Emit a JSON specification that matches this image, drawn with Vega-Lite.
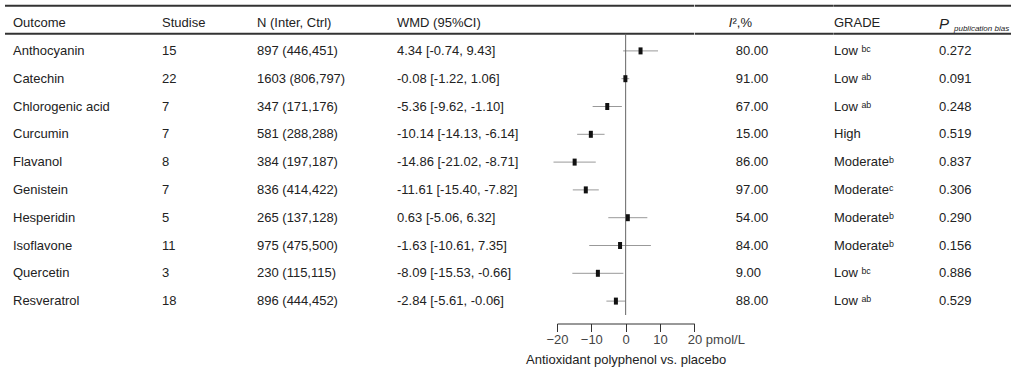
{
  "$schema": "https://vega.github.io/schema/vega-lite/v6.json",
  "background": "white",
  "padding": {"left": 4, "top": 4, "right": 0, "bottom": 0},
  "spacing": 0,
  "bounds": "flush",
  "config": {"view": {"stroke": null}, "font": "Liberation Sans", "text": {"font": "Liberation Sans", "fontSize": 13, "color": "#222", "align": "left", "baseline": "middle"},
    "axisX": {"grid": false, "domainColor": "#333", "domainWidth": 1, "tickColor": "#333", "tickSize": 8, "tickWidth": 1, "labelFont": "Liberation Sans", "labelFontSize": 13, "labelColor": "#444", "labelPadding": 2, "labelFlush": false, "labelOverlap": false, "labelBound": false, "titleFont": "Liberation Sans", "titleFontSize": 13, "titleFontWeight": "normal", "titleColor": "#222", "titlePadding": 7}},
  "data": {"values": [
    {"outcome": "Anthocyanin", "studies": 15, "n": "897 (446,451)", "wmd_ci": "4.34 [-0.74, 9.43]", "wmd": 4.34, "lo": -0.74, "hi": 9.43, "i2": 80, "grade": "Low ᵇᶜ", "p": 0.272},
    {"outcome": "Catechin", "studies": 22, "n": "1603 (806,797)", "wmd_ci": "-0.08 [-1.22, 1.06]", "wmd": -0.08, "lo": -1.22, "hi": 1.06, "i2": 91, "grade": "Low ᵃᵇ", "p": 0.091},
    {"outcome": "Chlorogenic acid", "studies": 7, "n": "347 (171,176)", "wmd_ci": "-5.36 [-9.62, -1.10]", "wmd": -5.36, "lo": -9.62, "hi": -1.10, "i2": 67, "grade": "Low ᵃᵇ", "p": 0.248},
    {"outcome": "Curcumin", "studies": 7, "n": "581 (288,288)", "wmd_ci": "-10.14 [-14.13, -6.14]", "wmd": -10.14, "lo": -14.13, "hi": -6.14, "i2": 15, "grade": "High", "p": 0.519},
    {"outcome": "Flavanol", "studies": 8, "n": "384 (197,187)", "wmd_ci": "-14.86 [-21.02, -8.71]", "wmd": -14.86, "lo": -21.02, "hi": -8.71, "i2": 86, "grade": "Moderateᵇ", "p": 0.837},
    {"outcome": "Genistein", "studies": 7, "n": "836 (414,422)", "wmd_ci": "-11.61 [-15.40, -7.82]", "wmd": -11.61, "lo": -15.40, "hi": -7.82, "i2": 97, "grade": "Moderateᶜ", "p": 0.306},
    {"outcome": "Hesperidin", "studies": 5, "n": "265 (137,128)", "wmd_ci": "0.63 [-5.06, 6.32]", "wmd": 0.63, "lo": -5.06, "hi": 6.32, "i2": 54, "grade": "Moderateᵇ", "p": 0.290},
    {"outcome": "Isoflavone", "studies": 11, "n": "975 (475,500)", "wmd_ci": "-1.63 [-10.61, 7.35]", "wmd": -1.63, "lo": -10.61, "hi": 7.35, "i2": 84, "grade": "Moderateᵇ", "p": 0.156},
    {"outcome": "Quercetin", "studies": 3, "n": "230 (115,115)", "wmd_ci": "-8.09 [-15.53, -0.66]", "wmd": -8.09, "lo": -15.53, "hi": -0.66, "i2": 9, "grade": "Low ᵇᶜ", "p": 0.886},
    {"outcome": "Resveratrol", "studies": 18, "n": "896 (444,452)", "wmd_ci": "-2.84 [-5.61, -0.06]", "wmd": -2.84, "lo": -5.61, "hi": -0.06, "i2": 88, "grade": "Low ᵃᵇ", "p": 0.529}
  ]},
  "hconcat": [
    {
      "width": 157, "height": 278,
      "layer": [
        {"data": {"values": [{}]}, "mark": {"type": "rule", "color": "#333", "strokeWidth": 2, "yOffset": -45.1}, "encoding": {"y": {"datum": "Anthocyanin", "type": "nominal", "axis": null, "scale": {"type": "band", "paddingInner": 0, "paddingOuter": 0, "domain": ["Anthocyanin", "Catechin", "Chlorogenic acid", "Curcumin", "Flavanol", "Genistein", "Hesperidin", "Isoflavone", "Quercetin", "Resveratrol"]}}}},
        {"data": {"values": [{}]}, "mark": {"type": "rule", "color": "#333", "strokeWidth": 2, "yOffset": -17.1}, "encoding": {"y": {"datum": "Anthocyanin", "type": "nominal", "axis": null}}},
        {"data": {"values": [{}]}, "mark": {"type": "text", "text": "Outcome", "dx": 8, "yOffset": -27.8}, "encoding": {"x": {"datum": "Outcome", "type": "nominal", "bandPosition": 0, "axis": null, "scale": {"type": "band", "paddingInner": 0, "paddingOuter": 0}}, "y": {"datum": "Anthocyanin", "type": "nominal", "axis": null}}},
        {"mark": {"type": "text", "dx": 8}, "encoding": {"x": {"datum": "Outcome", "type": "nominal", "bandPosition": 0, "axis": null}, "y": {"field": "outcome", "type": "nominal", "axis": null}, "text": {"field": "outcome"}}}
      ]
    },
    {
      "width": 95, "height": 278,
      "layer": [
        {"data": {"values": [{}]}, "mark": {"type": "rule", "color": "#333", "strokeWidth": 2, "yOffset": -45.1}, "encoding": {"y": {"datum": "Anthocyanin", "type": "nominal", "axis": null, "scale": {"type": "band", "paddingInner": 0, "paddingOuter": 0, "domain": ["Anthocyanin", "Catechin", "Chlorogenic acid", "Curcumin", "Flavanol", "Genistein", "Hesperidin", "Isoflavone", "Quercetin", "Resveratrol"]}}}},
        {"data": {"values": [{}]}, "mark": {"type": "rule", "color": "#333", "strokeWidth": 2, "yOffset": -17.1}, "encoding": {"y": {"datum": "Anthocyanin", "type": "nominal", "axis": null}}},
        {"data": {"values": [{}]}, "mark": {"type": "text", "text": "Studise", "yOffset": -27.8}, "encoding": {"x": {"datum": "Studise", "type": "nominal", "bandPosition": 0, "axis": null, "scale": {"type": "band", "paddingInner": 0, "paddingOuter": 0}}, "y": {"datum": "Anthocyanin", "type": "nominal", "axis": null}}},
        {"mark": {"type": "text"}, "encoding": {"x": {"datum": "Studise", "type": "nominal", "bandPosition": 0, "axis": null}, "y": {"field": "outcome", "type": "nominal", "axis": null}, "text": {"field": "studies"}}}
      ]
    },
    {
      "width": 140, "height": 278,
      "layer": [
        {"data": {"values": [{}]}, "mark": {"type": "rule", "color": "#333", "strokeWidth": 2, "yOffset": -45.1}, "encoding": {"y": {"datum": "Anthocyanin", "type": "nominal", "axis": null, "scale": {"type": "band", "paddingInner": 0, "paddingOuter": 0, "domain": ["Anthocyanin", "Catechin", "Chlorogenic acid", "Curcumin", "Flavanol", "Genistein", "Hesperidin", "Isoflavone", "Quercetin", "Resveratrol"]}}}},
        {"data": {"values": [{}]}, "mark": {"type": "rule", "color": "#333", "strokeWidth": 2, "yOffset": -17.1}, "encoding": {"y": {"datum": "Anthocyanin", "type": "nominal", "axis": null}}},
        {"data": {"values": [{}]}, "mark": {"type": "text", "text": "N (Inter, Ctrl)", "yOffset": -27.8}, "encoding": {"x": {"datum": "N", "type": "nominal", "bandPosition": 0, "axis": null, "scale": {"type": "band", "paddingInner": 0, "paddingOuter": 0}}, "y": {"datum": "Anthocyanin", "type": "nominal", "axis": null}}},
        {"mark": {"type": "text"}, "encoding": {"x": {"datum": "N", "type": "nominal", "bandPosition": 0, "axis": null}, "y": {"field": "outcome", "type": "nominal", "axis": null}, "text": {"field": "n"}}}
      ]
    },
    {
      "width": 160, "height": 278,
      "layer": [
        {"data": {"values": [{}]}, "mark": {"type": "rule", "color": "#333", "strokeWidth": 2, "yOffset": -45.1}, "encoding": {"y": {"datum": "Anthocyanin", "type": "nominal", "axis": null, "scale": {"type": "band", "paddingInner": 0, "paddingOuter": 0, "domain": ["Anthocyanin", "Catechin", "Chlorogenic acid", "Curcumin", "Flavanol", "Genistein", "Hesperidin", "Isoflavone", "Quercetin", "Resveratrol"]}}}},
        {"data": {"values": [{}]}, "mark": {"type": "rule", "color": "#333", "strokeWidth": 2, "yOffset": -17.1}, "encoding": {"y": {"datum": "Anthocyanin", "type": "nominal", "axis": null}}},
        {"data": {"values": [{}]}, "mark": {"type": "text", "text": "WMD (95%CI)", "yOffset": -27.8}, "encoding": {"x": {"datum": "WMD", "type": "nominal", "bandPosition": 0, "axis": null, "scale": {"type": "band", "paddingInner": 0, "paddingOuter": 0}}, "y": {"datum": "Anthocyanin", "type": "nominal", "axis": null}}},
        {"mark": {"type": "text"}, "encoding": {"x": {"datum": "WMD", "type": "nominal", "bandPosition": 0, "axis": null}, "y": {"field": "outcome", "type": "nominal", "axis": null}, "text": {"field": "wmd_ci"}}}
      ]
    },
    {
      "width": 137.3, "height": 278,
      "layer": [
        {"mark": {"type": "rule", "color": "#999", "strokeWidth": 1}, "encoding": {"x": {"field": "lo", "type": "quantitative", "scale": {"domain": [-20, 20], "nice": false, "zero": false},
          "axis": {"orient": "bottom", "offset": 8.5, "values": [-20, -10, 0, 10, 20], "labelExpr": "datum.value == 20 ? '20 pmol/L' : datum.label", "labelAlign": {"condition": {"test": "datum.value == 20", "value": "left"}, "value": "center"}, "labelOffset": {"condition": {"test": "datum.value == 20", "value": -7}, "value": 0}, "title": "Antioxidant polyphenol vs. placebo"}},
          "x2": {"field": "hi"}, "y": {"field": "outcome", "type": "nominal", "axis": null, "scale": {"type": "band", "paddingInner": 0, "paddingOuter": 0, "domain": ["Anthocyanin", "Catechin", "Chlorogenic acid", "Curcumin", "Flavanol", "Genistein", "Hesperidin", "Isoflavone", "Quercetin", "Resveratrol"]}}}},
        {"data": {"values": [{}]}, "mark": {"type": "rule", "color": "#333", "strokeWidth": 2, "yOffset": -45.1}, "encoding": {"x": {"datum": -20, "type": "quantitative",
          "axis": {"orient": "bottom", "offset": 8.5, "values": [-20, -10, 0, 10, 20], "labelExpr": "datum.value == 20 ? '20 pmol/L' : datum.label", "labelAlign": {"condition": {"test": "datum.value == 20", "value": "left"}, "value": "center"}, "labelOffset": {"condition": {"test": "datum.value == 20", "value": -7}, "value": 0}, "title": "Antioxidant polyphenol vs. placebo"}}, "x2": {"datum": 20}, "y": {"datum": "Anthocyanin", "type": "nominal", "axis": null}}},
        {"data": {"values": [{}]}, "mark": {"type": "rule", "color": "#333", "strokeWidth": 2, "yOffset": -17.1}, "encoding": {"x": {"datum": -20, "type": "quantitative",
          "axis": {"orient": "bottom", "offset": 8.5, "values": [-20, -10, 0, 10, 20], "labelExpr": "datum.value == 20 ? '20 pmol/L' : datum.label", "labelAlign": {"condition": {"test": "datum.value == 20", "value": "left"}, "value": "center"}, "labelOffset": {"condition": {"test": "datum.value == 20", "value": -7}, "value": 0}, "title": "Antioxidant polyphenol vs. placebo"}}, "x2": {"datum": 20}, "y": {"datum": "Anthocyanin", "type": "nominal", "axis": null}}},
        {"data": {"values": [{}]}, "mark": {"type": "rule", "color": "#666", "strokeWidth": 1, "yOffset": -3.2, "y2Offset": 8.5}, "encoding": {"x": {"datum": 0, "type": "quantitative",
          "axis": {"orient": "bottom", "offset": 8.5, "values": [-20, -10, 0, 10, 20], "labelExpr": "datum.value == 20 ? '20 pmol/L' : datum.label", "labelAlign": {"condition": {"test": "datum.value == 20", "value": "left"}, "value": "center"}, "labelOffset": {"condition": {"test": "datum.value == 20", "value": -7}, "value": 0}, "title": "Antioxidant polyphenol vs. placebo"}}}},
        {"mark": {"type": "tick", "color": "#111", "thickness": 4, "size": 7, "opacity": 1}, "encoding": {"x": {"field": "wmd", "type": "quantitative",
          "axis": {"orient": "bottom", "offset": 8.5, "values": [-20, -10, 0, 10, 20], "labelExpr": "datum.value == 20 ? '20 pmol/L' : datum.label", "labelAlign": {"condition": {"test": "datum.value == 20", "value": "left"}, "value": "center"}, "labelOffset": {"condition": {"test": "datum.value == 20", "value": -7}, "value": 0}, "title": "Antioxidant polyphenol vs. placebo"}}, "y": {"field": "outcome", "type": "nominal", "axis": null}}}
      ]
    },
    {
      "width": 138.7, "height": 278,
      "layer": [
        {"data": {"values": [{}]}, "mark": {"type": "rule", "color": "#333", "strokeWidth": 2, "yOffset": -45.1}, "encoding": {"y": {"datum": "Anthocyanin", "type": "nominal", "axis": null, "scale": {"type": "band", "paddingInner": 0, "paddingOuter": 0, "domain": ["Anthocyanin", "Catechin", "Chlorogenic acid", "Curcumin", "Flavanol", "Genistein", "Hesperidin", "Isoflavone", "Quercetin", "Resveratrol"]}}}},
        {"data": {"values": [{}]}, "mark": {"type": "rule", "color": "#333", "strokeWidth": 2, "yOffset": -17.1}, "encoding": {"y": {"datum": "Anthocyanin", "type": "nominal", "axis": null}}},
        {"data": {"values": [{}]}, "mark": {"type": "text", "text": "I", "fontStyle": "italic", "dx": 33.7, "yOffset": -27.8}, "encoding": {"x": {"datum": "I2", "type": "nominal", "bandPosition": 0, "axis": null, "scale": {"type": "band", "paddingInner": 0, "paddingOuter": 0}}, "y": {"datum": "Anthocyanin", "type": "nominal", "axis": null}}},
        {"data": {"values": [{}]}, "mark": {"type": "text", "text": "²,%", "dx": 37.5, "yOffset": -27.8}, "encoding": {"x": {"datum": "I2", "type": "nominal", "bandPosition": 0, "axis": null}, "y": {"datum": "Anthocyanin", "type": "nominal", "axis": null}}},
        {"mark": {"type": "text", "dx": 40.7}, "encoding": {"x": {"datum": "I2", "type": "nominal", "bandPosition": 0, "axis": null}, "y": {"field": "outcome", "type": "nominal", "axis": null}, "text": {"field": "i2", "type": "quantitative", "format": ".2f"}}}
      ]
    },
    {
      "width": 105, "height": 278,
      "layer": [
        {"data": {"values": [{}]}, "mark": {"type": "rule", "color": "#333", "strokeWidth": 2, "yOffset": -45.1}, "encoding": {"y": {"datum": "Anthocyanin", "type": "nominal", "axis": null, "scale": {"type": "band", "paddingInner": 0, "paddingOuter": 0, "domain": ["Anthocyanin", "Catechin", "Chlorogenic acid", "Curcumin", "Flavanol", "Genistein", "Hesperidin", "Isoflavone", "Quercetin", "Resveratrol"]}}}},
        {"data": {"values": [{}]}, "mark": {"type": "rule", "color": "#333", "strokeWidth": 2, "yOffset": -17.1}, "encoding": {"y": {"datum": "Anthocyanin", "type": "nominal", "axis": null}}},
        {"data": {"values": [{}]}, "mark": {"type": "text", "text": "GRADE", "yOffset": -27.8}, "encoding": {"x": {"datum": "GRADE", "type": "nominal", "bandPosition": 0, "axis": null, "scale": {"type": "band", "paddingInner": 0, "paddingOuter": 0}}, "y": {"datum": "Anthocyanin", "type": "nominal", "axis": null}}},
        {"mark": {"type": "text"}, "encoding": {"x": {"datum": "GRADE", "type": "nominal", "bandPosition": 0, "axis": null}, "y": {"field": "outcome", "type": "nominal", "axis": null}, "text": {"field": "grade"}}}
      ]
    },
    {
      "width": 72, "height": 278,
      "layer": [
        {"data": {"values": [{}]}, "mark": {"type": "rule", "color": "#333", "strokeWidth": 2, "yOffset": -45.1}, "encoding": {"y": {"datum": "Anthocyanin", "type": "nominal", "axis": null, "scale": {"type": "band", "paddingInner": 0, "paddingOuter": 0, "domain": ["Anthocyanin", "Catechin", "Chlorogenic acid", "Curcumin", "Flavanol", "Genistein", "Hesperidin", "Isoflavone", "Quercetin", "Resveratrol"]}}}},
        {"data": {"values": [{}]}, "mark": {"type": "rule", "color": "#333", "strokeWidth": 2, "yOffset": -17.1}, "encoding": {"y": {"datum": "Anthocyanin", "type": "nominal", "axis": null}}},
        {"data": {"values": [{}]}, "mark": {"type": "text", "text": "P", "fontStyle": "italic", "fontSize": 15, "yOffset": -27.3}, "encoding": {"x": {"datum": "P", "type": "nominal", "bandPosition": 0, "axis": null, "scale": {"type": "band", "paddingInner": 0, "paddingOuter": 0}}, "y": {"datum": "Anthocyanin", "type": "nominal", "axis": null}}},
        {"data": {"values": [{}]}, "mark": {"type": "text", "text": "publication bias", "fontStyle": "italic", "fontSize": 8, "dx": 15, "yOffset": -21.8}, "encoding": {"x": {"datum": "P", "type": "nominal", "bandPosition": 0, "axis": null}, "y": {"datum": "Anthocyanin", "type": "nominal", "axis": null}}},
        {"mark": {"type": "text"}, "encoding": {"x": {"datum": "P", "type": "nominal", "bandPosition": 0, "axis": null}, "y": {"field": "outcome", "type": "nominal", "axis": null}, "text": {"field": "p", "type": "quantitative", "format": ".3f"}}}
      ]
    }
  ]
}
